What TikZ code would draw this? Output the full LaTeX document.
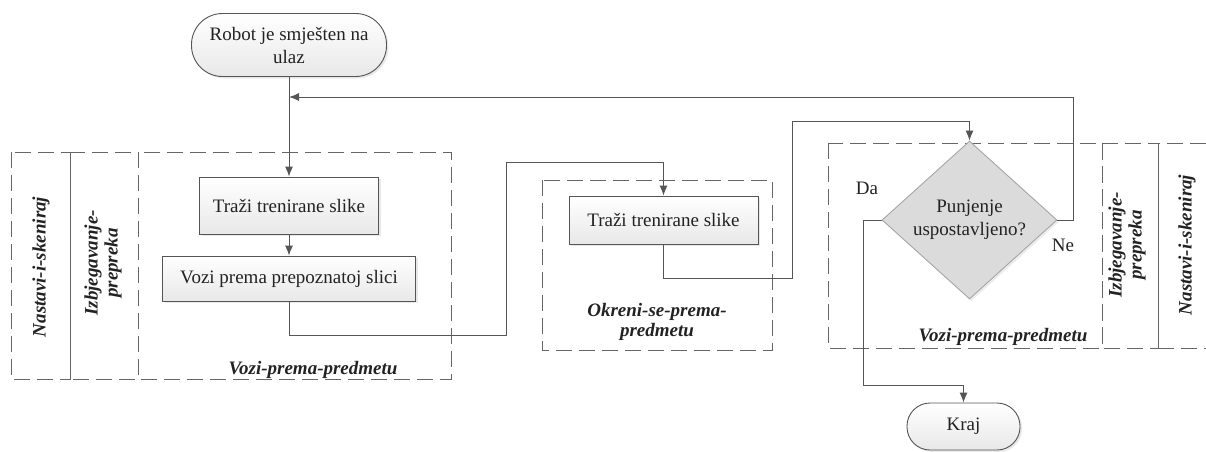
\documentclass[tikz,border=0pt]{standalone}
\usepackage{fontspec}
\setmainfont{Liberation Serif}
\usetikzlibrary{shapes.geometric,arrows.meta,shadows}
\definecolor{txt}{HTML}{222222}
\definecolor{edge}{HTML}{555555}
\definecolor{dsh}{HTML}{666666}
\tikzset{
  base/.style={font=\fontsize{19}{23}\selectfont, text=txt, align=center, inner sep=0pt},
  procbox/.style={base, draw=edge, line width=0.9pt, rectangle, top color=white, bottom color=gray!18,
    drop shadow={shadow xshift=2pt, shadow yshift=-2pt, fill=gray!35}},
  termbox/.style={procbox},
  decbox/.style={base, draw=gray!70, line width=0.9pt, diamond, fill=gray!28,
    minimum width=175pt, minimum height=158pt,
    drop shadow={shadow xshift=2pt, shadow yshift=-2pt, fill=gray!30}},
  arr/.style={draw=edge, line width=1pt, -{Latex[length=10pt,width=8pt]}},
  conn/.style={draw=edge, line width=1pt},
  frame/.style={draw=dsh, line width=1pt, dash pattern=on 16pt off 7pt},
  lane/.style={base, font=\fontsize{19}{20}\selectfont\bfseries\itshape},
  lbl/.style={base}
}
\begin{document}
\begin{tikzpicture}[x=1pt,y=-1pt]
\useasboundingbox (0,0) rectangle (1206,451);
% dashed frames
\draw[frame] (11,152) rectangle (70,379);
\draw[frame] (70,152) rectangle (138,379);
\draw[frame] (138,152) rectangle (451,379);
\draw[frame] (542,180) rectangle (772,350);
\draw[frame] (828,143) rectangle (1102,348);
\draw[frame] (1102,143) rectangle (1158,348);
\draw[frame] (1206,143) -- (1158,143) -- (1158,348) -- (1206,348);
% lane labels
\node[lane, rotate=90] (l1) at (41,267) {Nastavi-i-skeniraj};
\node[lane, rotate=90] (l2) at (103,263) {Izbjegavanje-\\prepreka};
\node[lane] (l3) at (313,370) {Vozi-prema-predmetu};
\node[lane] (l4) at (657,322) {Okreni-se-prema-\\predmetu};
\node[lane] (l5) at (1003,337) {Vozi-prema-predmetu};
\node[lane, rotate=90] (l6) at (1127,245) {Izbjegavanje-\\prepreka};
\node[lane, rotate=90] (l7) at (1187,245) {Nastavi-i-skeniraj};
% nodes
\node[termbox, minimum width=195pt, minimum height=63pt, rounded corners=31pt] (start) at (289,45) {Robot je smješten na\\ulaz};
\node[procbox, minimum width=179pt, minimum height=57pt] (b1) at (289,205.5) {Traži trenirane slike};
\node[procbox, minimum width=253pt, minimum height=45pt] (b2) at (289,278.5) {Vozi prema prepoznatoj slici};
\node[procbox, minimum width=189pt, minimum height=48pt] (b3) at (663.5,220) {Traži trenirane slike};
\node[decbox] (dia) at (969.5,220) {Punjenje\\uspostavljeno?};
\node[termbox, minimum width=113pt, minimum height=47pt, rounded corners=23pt] (kraj) at (963.5,426.5) {Kraj};
\node[lbl] (da) at (867,188) {Da};
\node[lbl] (ne) at (1063,245) {Ne};
\coordinate (join) at (289,97);
% connectors
\draw[arr] (start.south) -- (b1.north);
\draw[arr] (b1.south) -- (b2.north);
\draw[arr] (b2.south) |- (506,335) -- (506,162) -| (b3.north);
\draw[arr] (b3.south) |- (792,278) -- (792,121) -| (dia.north);
\draw[arr] (dia.east) -| (1073,97) -- (join);
\draw[arr] (dia.west) -| (863,385) -| (kraj.north);
\end{tikzpicture}
\end{document}
